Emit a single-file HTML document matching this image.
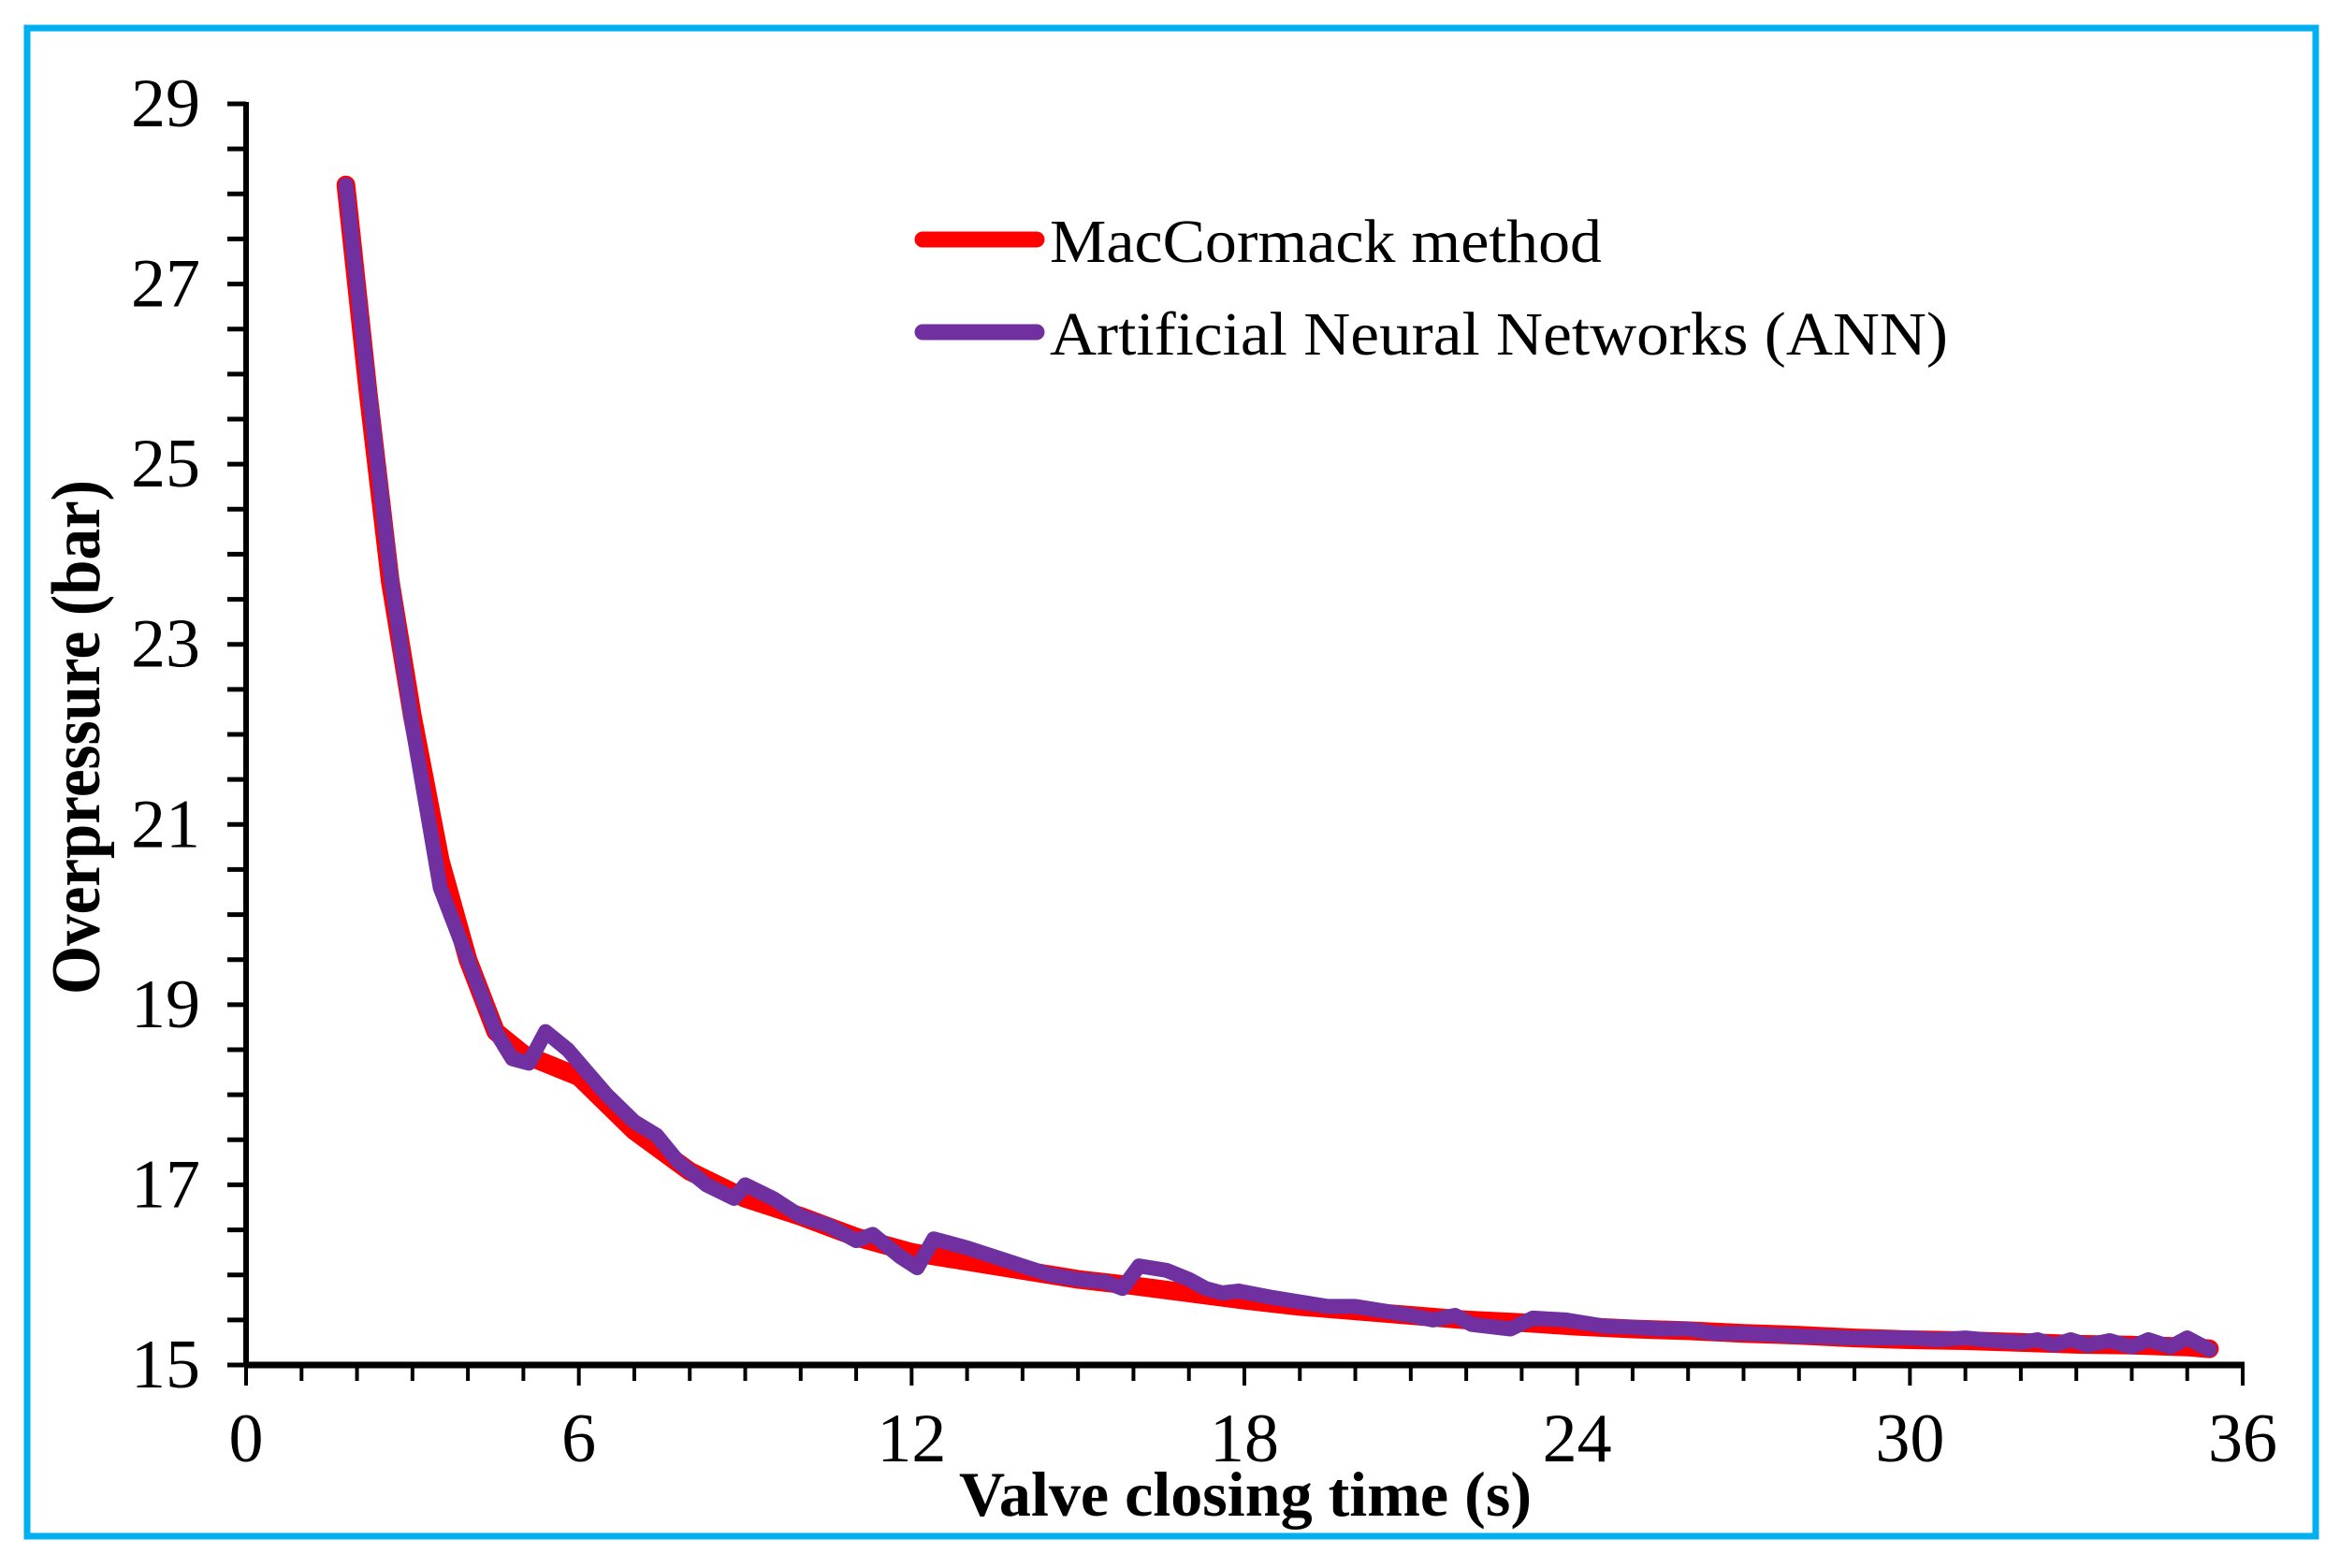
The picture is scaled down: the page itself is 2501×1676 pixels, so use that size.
<!DOCTYPE html>
<html><head><meta charset="utf-8"><style>
html,body{margin:0;padding:0;background:#fff;}
svg{display:block;}
</style></head><body>
<svg id="chart" width="2501" height="1676" viewBox="0 0 2501 1676" xmlns="http://www.w3.org/2000/svg">
<rect x="0" y="0" width="2501" height="1676" fill="#fff"/>
<rect x="29" y="30" width="2446" height="1612" fill="none" stroke="#00b0f0" stroke-width="7"/>
<g id="axes"></g>
<g id="series"></g>
<text x="106" y="788" transform="rotate(-90 106 788)" text-anchor="middle" font-family="Liberation Serif, serif" font-weight="bold" font-size="74" textLength="550" lengthAdjust="spacingAndGlyphs">Overpressure  (bar)</text>
<text x="1331" y="1620" text-anchor="middle" font-family="Liberation Serif, serif" font-weight="bold" font-size="68" textLength="612" lengthAdjust="spacingAndGlyphs">Valve closing time (s)</text>
<g>
<line x1="986" y1="256" x2="1108" y2="256" stroke="#ff0000" stroke-width="17" stroke-linecap="round"/>
<text x="1122" y="280" font-family="Liberation Serif, serif" font-size="66" textLength="590" lengthAdjust="spacingAndGlyphs">MacCormack method</text>
<line x1="986" y1="355" x2="1108" y2="355" stroke="#7030a0" stroke-width="17" stroke-linecap="round"/>
<text x="1122" y="379" font-family="Liberation Serif, serif" font-size="66" textLength="960" lengthAdjust="spacingAndGlyphs">Artificial Neural Networks  (ANN)</text>
</g>
</svg>
<script>
const xTicks = [0, 6, 12, 18, 24, 30, 36];
const yTicks = [15, 17, 19, 21, 23, 25, 27, 29];
const macT = [1.8,2.2,2.6,3,3.5,4,4.5,5,6,7,8,9,10,11,12,13,14,15,16,17,18,19,20,21,22,23,24,25,26,27,28,29,30,31,32,33,34,35,35.4];
const macP = [28.1,25.8,23.7,22.2,20.6,19.5,18.7,18.45,18.2,17.6,17.15,16.85,16.65,16.42,16.25,16.15,16.05,15.95,15.88,15.8,15.72,15.65,15.6,15.55,15.5,15.47,15.43,15.4,15.38,15.35,15.33,15.3,15.28,15.27,15.25,15.23,15.22,15.2,15.18];
const annT = [1.8,2.2,2.6,3,3.5,4,4.5,4.8,5.1,5.4,5.8,6.5,7,7.4,7.8,8.3,8.8,9,9.5,10,10.5,11,11.3,11.8,12.1,12.4,13,13.5,14,14.5,15,15.5,15.8,16.1,16.6,17,17.3,17.6,17.9,18.5,19,19.5,20,20.5,21,21.4,21.8,22.1,22.8,23.2,23.8,24.5,25,25.5,26,26.5,27,28,29,30,30.5,31,31.5,32,32.3,32.6,32.9,33.2,33.6,34,34.3,34.7,35,35.4];
const annP = [28.1,25.9,23.8,22.1,20.3,19.5,18.7,18.4,18.35,18.7,18.5,18.0,17.7,17.55,17.25,17.0,16.85,17.0,16.85,16.65,16.55,16.38,16.45,16.2,16.08,16.4,16.3,16.2,16.1,16.0,15.95,15.92,15.85,16.1,16.05,15.95,15.85,15.8,15.82,15.75,15.7,15.65,15.65,15.6,15.55,15.5,15.55,15.45,15.4,15.52,15.5,15.43,15.42,15.4,15.4,15.35,15.35,15.32,15.3,15.3,15.28,15.3,15.27,15.25,15.28,15.22,15.28,15.22,15.27,15.2,15.28,15.2,15.3,15.17];

const X0 = 263, X1 = 2397, Y0 = 1459, Y1 = 111;
const xs = v => X0 + (v - 0) / 36 * (X1 - X0);
const ys = v => Y0 - (v - 15) / 14 * (Y0 - Y1);
const NS = 'http://www.w3.org/2000/svg';
const axes = document.getElementById('axes');
const series = document.getElementById('series');
function mk(tag, attrs, parent) {
  const e = document.createElementNS(NS, tag);
  for (const k in attrs) e.setAttribute(k, attrs[k]);
  parent.appendChild(e);
  return e;
}
let yAxis = mk('line', {x1: X0, y1: Y1 - 2, x2: X0, y2: Y0 + 2, stroke: '#000', 'stroke-width': 6}, axes);


let xAxis = mk('line', {x1: X0 - 2, y1: Y0, x2: X1 + 2, y2: Y0, stroke: '#000', 'stroke-width': 7}, axes);


for (let v = 15; v <= 29.001; v += 0.5) {
  const t = mk('line', {x1: X0 - 20, y1: ys(v), x2: X0, y2: ys(v), stroke: '#000', 'stroke-width': 5}, axes);
  
  
}
for (let v = 0; v <= 36; v += 1) {
  const major = v % 6 === 0;
  const t = mk('line', {x1: xs(v), y1: Y0, x2: xs(v), y2: Y0 + (major ? 22 : 17), stroke: '#000', 'stroke-width': 4}, axes);
  
  
}
yTicks.forEach(v => {
  const t = mk('text', {x: 214, y: ys(v) + 24, 'text-anchor': 'end', 'font-family': 'Liberation Serif, serif', 'font-size': 74}, axes);
  t.textContent = v;
  
  
});
xTicks.forEach(v => {
  const t = mk('text', {x: xs(v), y: 1562, 'text-anchor': 'middle', 'font-family': 'Liberation Serif, serif', 'font-size': 74}, axes);
  t.textContent = v;
  
  
});
function pts(T, P) { return T.map((t, i) => xs(t).toFixed(1) + ',' + ys(P[i]).toFixed(1)).join(' '); }
const red = mk('polyline', {points: pts(macT, macP), fill: 'none', stroke: '#ff0000', 'stroke-width': 20, 'stroke-linejoin': 'round', 'stroke-linecap': 'round'}, series);


const pur = mk('polyline', {points: pts(annT, annP), fill: 'none', stroke: '#7030a0', 'stroke-width': 16, 'stroke-linejoin': 'round', 'stroke-linecap': 'round'}, series);


</script>
</body></html>
